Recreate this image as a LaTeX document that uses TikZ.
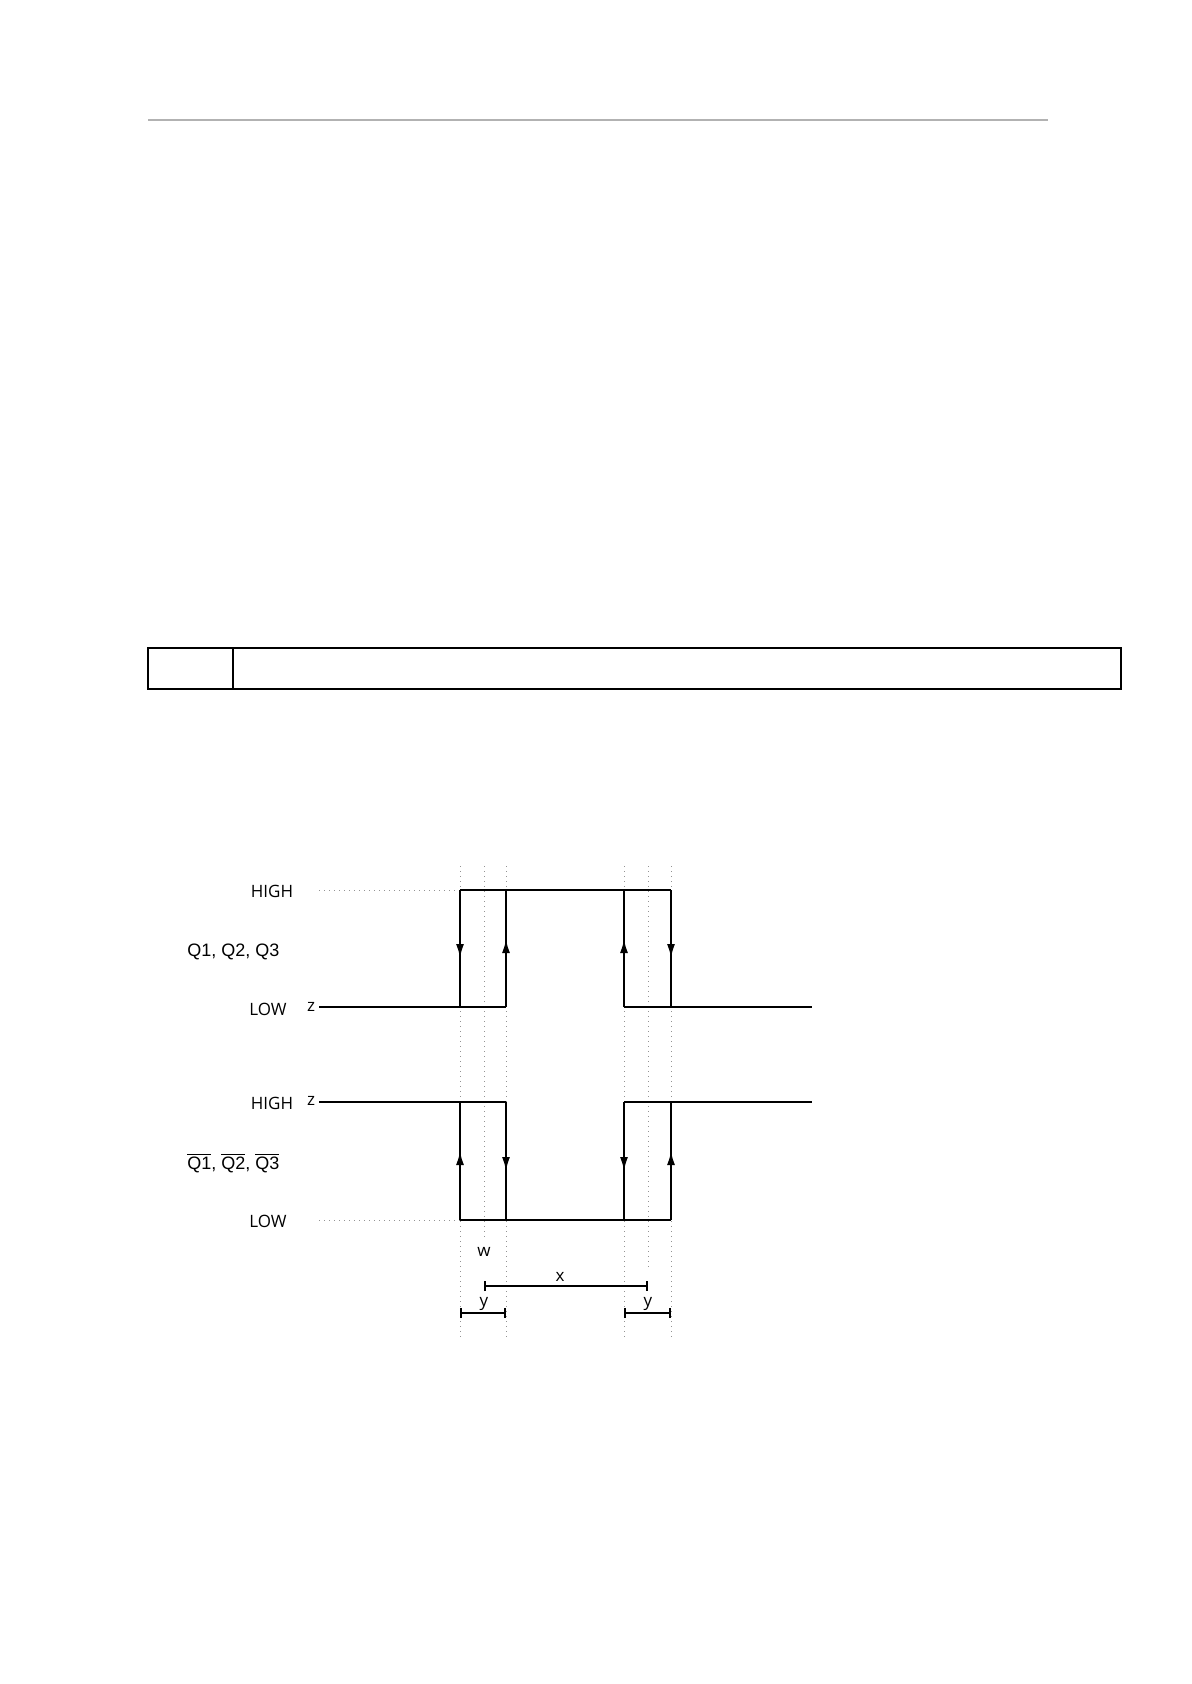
\documentclass[tikz,border=0pt]{standalone}
\usepackage{fontspec}
\setmainfont{Open Sans}
\newfontfamily\arialfont{Liberation Sans}
\usetikzlibrary{arrows.meta}

\newcommand{\ovq}[1]{$\overline{\mbox{#1}}$}

\begin{document}
\begin{tikzpicture}[%
    x=0.5pt,
    y=-0.5pt,
    sig/.style={line width=1pt},
    edgetip/.style={sig, -{Latex[length=7pt,width=4pt]}},
    guide/.style={dotted, gray!85, line width=0.5pt},
    dimline/.style={line width=0.9pt, {Bar[width=5pt]}-{Bar[width=5pt]}},
    lbl/.style={font=\fontsize{8.5}{10}\selectfont, inner sep=0pt},
    qlbl/.style={font=\arialfont\fontsize{9}{11}\selectfont, inner sep=0pt, anchor=west}
  ]
    \useasboundingbox (0,0) rectangle (1191,1684);

    % page rule and empty table row
    \draw[gray!60, line width=1pt] (148,120) -- (1048,120);
    \draw[line width=0.8pt] (148,648) rectangle (1121,689);
    \draw[line width=0.8pt] (233,648) -- (233,689);

    % guide lines
    \foreach \x in {460,506,624,671}
      \draw[guide] (\x,866) -- (\x,1337);
    \draw[guide] (484,866) -- (484,1240);
    \draw[guide] (648,866) -- (648,1268);
    \draw[guide] (319,890) -- (460,890);
    \draw[guide] (319,1220) -- (460,1220);

    % labels
    \node[lbl] (high1) at (272,891)  {HIGH};
    \node[lbl] (low1)  at (268,1009) {LOW};
    \node[lbl] (z1)    at (311,1007) {z};
    \node[qlbl] (q)    at (187,952)  {Q1, Q2, Q3};
    \node[lbl] (high2) at (272,1103) {HIGH};
    \node[lbl] (low2)  at (268,1221) {LOW};
    \node[lbl] (z2)    at (311,1101) {z};
    \node[qlbl] (qbar) at (187,1163) {\ovq{Q1}, \ovq{Q2}, \ovq{Q3}};

    % Q1, Q2, Q3
    \draw[sig] (319,1007) -- (506,1007);
    \draw[sig] (460,890) -- (671,890);
    \draw[sig] (624,1007) -- (812,1007);

    % inverted outputs
    \draw[sig] (319,1102) -- (506,1102);
    \draw[sig] (460,1220) -- (671,1220);
    \draw[sig] (624,1102) -- (812,1102);

    % edges: x / from / tip / to
    \foreach \x/\a/\t/\b in {460/890/958/1007, 506/1007/939/890,
                             624/1007/939/890, 671/890/958/1007,
                             460/1220/1151/1102, 506/1102/1171/1220,
                             624/1102/1171/1220, 671/1220/1151/1102} {
      \draw[sig] (\x,\a) -- (\x,\b);
      \draw[edgetip] (\x,\a) -- (\x,\t);
    }

    % timing marks
    \coordinate (wa) at (460,1313);
    \coordinate (wb) at (506,1313);
    \coordinate (wc) at (624,1313);
    \coordinate (wd) at (671,1313);
    \coordinate (xa) at (484,1286);
    \coordinate (xb) at (648,1286);
    \draw[dimline] (xa) -- (xb);
    \draw[dimline] (wa) -- (wb);
    \draw[dimline] (wc) -- (wd);
    \node[lbl] (w)  at (484,1252) {w};
    \node[lbl] (xl) at (560,1277) {x};
    \node[lbl] (y1) at (484,1304) {y};
    \node[lbl] (y2) at (648,1304) {y};
\end{tikzpicture}
\end{document}
